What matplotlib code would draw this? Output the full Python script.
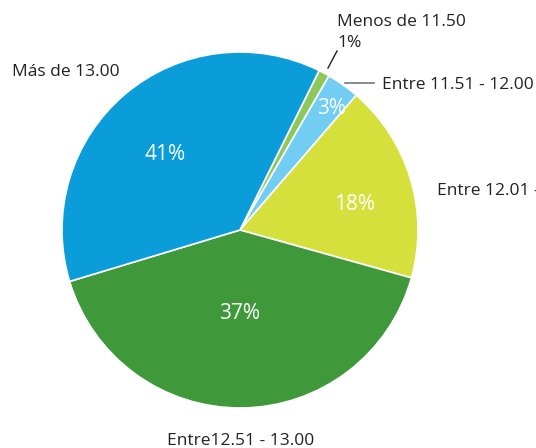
import matplotlib
matplotlib.use("Agg")
from matplotlib import pyplot as plt

# slice order goes clockwise from the thin "Menos de 11.50" wedge
categories = ["Menos de 11.50", "Entre 11.51 - 12.00", "Entre 12.01 - 12.50",
              "Entre12.51 - 13.00", "Más de 13.00"]
# wedge sizes as drawn in the picture (green wedge is the larger one)
values = [1, 3, 18, 41, 37]
# percentages as printed on the wedges
pct_labels = ["1%", "3%", "18%", "37%", "41%"]
colors = ["#8dc85b", "#72cdf3", "#d6e03d", "#3f993b", "#0b9dda"]

W, H = 536, 448
plt.rcParams['font.family'] = ['Open Sans', 'DejaVu Sans']

fig = plt.figure(figsize=(W / 100, H / 100), dpi=100)
ax = fig.add_axes([0, 0, 1, 1])

cx, cy, r = 240, H - 230, 178
ax.pie(values, colors=colors, startangle=90 - 26.4, counterclock=False,
       center=(cx, cy), radius=r, frame=True,
       wedgeprops=dict(edgecolor='white', linewidth=1.2))
ax.set_xlim(0, W)
ax.set_ylim(0, H)
ax.set_aspect('equal')
ax.axis('off')


def px(x, y):
    return x, H - y


# white percentages inside the wedges
inside = [(pct_labels[1], 332, 114), (pct_labels[2], 355, 210),
          (pct_labels[3], 240, 319), (pct_labels[4], 165, 160)]
for txt, x, y in inside:
    ax.text(*px(x, y), txt, color='white', fontsize=15, ha='center', va='baseline')

# outside category labels (the last one runs off the right edge, as in the source)
lab_kw = dict(color='#222222', fontsize=12.5, va='baseline', clip_on=False)
ax.text(*px(337, 26), categories[0], ha='left', **lab_kw)
ax.text(*px(337, 47), pct_labels[0], ha='left', **lab_kw)
ax.text(*px(382, 89), categories[1], ha='left', **lab_kw)
ax.text(*px(437, 195), categories[2], ha='left', **lab_kw)
ax.text(*px(167, 445), categories[3], ha='left', **lab_kw)
ax.text(*px(12, 76), categories[4], ha='left', **lab_kw)

# leader lines
ax.plot(*zip(px(337, 51), px(328, 68)), color='#222222', linewidth=1)
ax.plot(*zip(px(345, 83), px(374, 83)), color='#777777', linewidth=1.2)

fig.savefig("out.png", dpi=100)
